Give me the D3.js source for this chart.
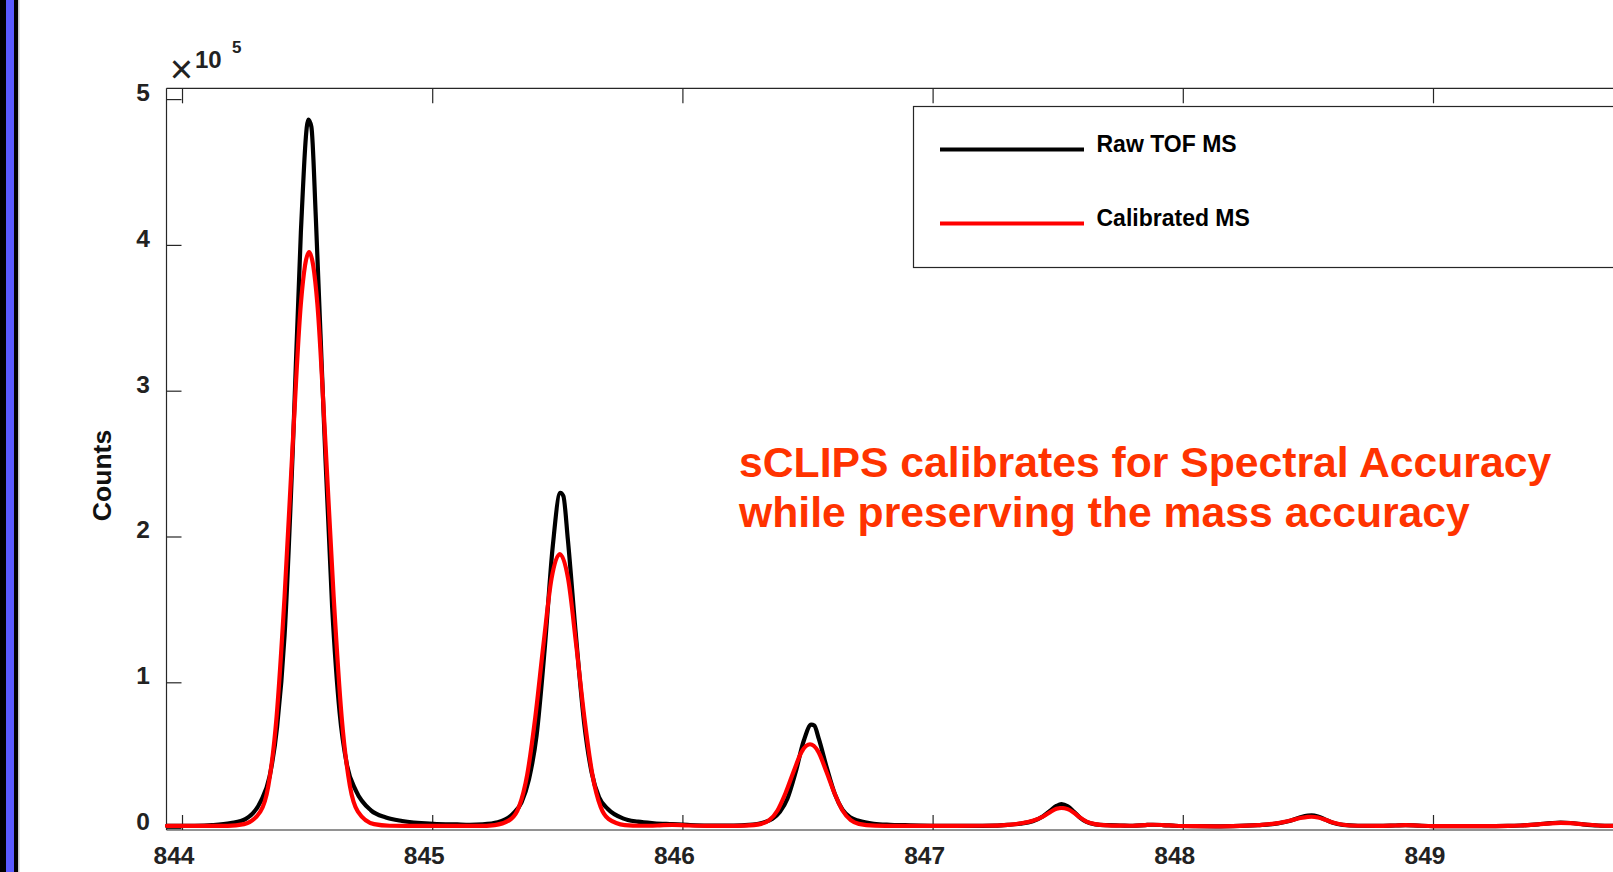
<!DOCTYPE html>
<html>
<head>
<meta charset="utf-8">
<script src="https://cdn.jsdelivr.net/npm/d3@7"></script>
<style>
  html, body { margin: 0; padding: 0; background: #fff; overflow: hidden; }
  svg { display: block; }
  text { font-family: "Liberation Sans", Arial, Helvetica, sans-serif; }
</style>
</head>
<body>
<svg id="chart" width="1613" height="872"></svg>
<script>
// ---------------- data ----------------
const seriesNames = ["Raw TOF MS", "Calibrated MS"];
const seriesColors = ["#000000", "#ff0000"];

const mzRaw = [843.94,844.05,844.12,844.195,844.255,844.315,844.35,844.38,844.41,844.4425,844.475,844.505,844.517,844.535,844.5675,844.60,844.63,844.66,844.695,844.755,844.815,844.88,845.005,845.1,845.15,
  845.202,845.262,845.322,845.357,845.387,845.417,845.4495,845.482,845.512,845.524,845.542,845.5745,845.607,845.637,845.667,845.702,845.762,845.822,845.887,845.96,846.02,846.1,
  846.205,846.265,846.325,846.36,846.39,846.42,846.4525,846.485,846.515,846.527,846.545,846.5775,846.61,846.64,846.67,846.705,846.765,846.83,846.89,846.95,847.05,847.15,
  847.25,847.30,847.35,847.40,847.44,847.47,847.495,847.515,847.54,847.565,847.59,847.615,847.65,847.70,847.75,847.80,847.85,847.88,847.92,847.97,848.05,848.15,
  848.20,848.30,848.38,848.43,848.47,848.50,848.515,848.54,848.57,848.60,848.64,848.70,848.78,848.85,848.89,848.94,849.0,849.1,849.2,849.3,
  849.35,849.42,849.47,849.51,849.55,849.60,849.66,849.72,849.80,849.9,850.0];
const countsRaw = [1500,1600,2000,3400,6300,18500,35400,69300,132300,258300,408500,486000,481000,418000,277700,151700,79000,42700,25700,12200,7300,4900,3000,2500,2300,
  2600,4000,9700,17700,33700,63400,122800,193600,230000,227900,198200,131900,72500,38300,21100,13100,6700,4400,3300,2700,2200,1800,
  1800,2200,3900,6400,11200,20300,38300,59900,71000,70300,61300,41100,23000,12600,7400,5000,3000,2300,2000,1700,1500,1500,
  1700,2200,3000,4700,8000,12000,15200,16500,15000,11200,7000,4200,2600,2000,1800,1600,2100,2300,2100,1600,1300,1200,
  1300,2000,3200,5000,7400,8600,8800,8000,5800,3600,2200,1600,1500,1800,2000,1700,1400,1300,1300,1500,
  1800,2600,3400,3800,3500,2600,1800,1500,1400,1300,1300];

const mzCal = [843.94,844.10,844.183,844.248,844.313,844.345,844.378,844.41,844.443,844.475,844.508,844.541,844.573,844.606,844.638,844.671,844.703,844.768,844.83,844.9,845.1,
  845.185,845.25,845.315,845.347,845.38,845.412,845.445,845.477,845.51,845.543,845.575,845.608,845.64,845.673,845.705,845.77,845.835,845.9,845.96,846.02,846.1,
  846.185,846.25,846.315,846.347,846.38,846.412,846.445,846.477,846.51,846.543,846.575,846.608,846.64,846.673,846.705,846.77,846.85,847.0,847.2,
  847.25,847.30,847.35,847.40,847.44,847.47,847.495,847.515,847.54,847.565,847.59,847.615,847.65,847.70,847.75,847.80,847.85,847.88,847.92,847.97,848.05,848.15,
  848.20,848.30,848.38,848.43,848.47,848.50,848.515,848.54,848.57,848.60,848.64,848.70,848.78,848.85,848.89,848.94,849.0,849.1,849.2,849.3,
  849.35,849.42,849.47,849.51,849.55,849.60,849.66,849.72,849.80,849.9,850.0];
const countsCal = [1500,1500,1500,2700,11300,29000,76300,158900,265100,359600,395000,359600,265100,158900,76300,29000,11300,2700,1600,1500,1500,
  1500,2100,6200,14600,36900,76100,126500,171200,188000,171200,126500,76100,36900,14600,6200,2100,1600,1800,2200,1800,1500,
  1500,1700,2900,5400,12100,23900,39000,52500,57500,52500,39000,23900,12100,5400,2900,1700,1500,1500,1600,
  1700,2200,3200,5000,7800,11000,13200,13800,13000,10500,7200,4500,2700,1900,1700,1600,2100,2300,2100,1600,1300,1200,
  1300,2000,3400,5200,6900,7700,7800,7300,5700,3800,2300,1600,1500,1800,2000,1700,1400,1300,1300,1500,
  1800,2500,3300,3600,3400,2600,1800,1500,1400,1300,1300];

const xTicks = [844, 845, 846, 847, 848, 849];
const yTicks = [0, 100000, 200000, 300000, 400000, 500000];
const yTickLabels = ["0", "1", "2", "3", "4", "5"];
const yLabel = "Counts";
const exponentBase = "10";
const exponentPower = "5";
const annotationLines = ["sCLIPS calibrates for Spectral Accuracy", "while preserving the mass accuracy"];

// ---------------- layout ----------------
const svg = d3.select("#chart");
const plot = { left: 166.5, right: 1750, top: 88.3, bottom: 830 };
const x = d3.scaleLinear().domain([843.938, 850.267]).range([plot.left, plot.right]);
const y = d3.scaleLinear().domain([-1300, 507400]).range([plot.bottom, plot.top]);
const axisColor = "#262626";
const tickLen = 15;

// left decorative stripe
svg.append("rect").attr("x", 0).attr("y", 0).attr("width", 18).attr("height", 872).attr("fill", "#000");
svg.append("rect").attr("x", 6).attr("y", 0).attr("width", 8).attr("height", 872).attr("fill", "#5a5aff");
svg.append("rect").attr("x", 18).attr("y", 0).attr("width", 1.5).attr("height", 872).attr("fill", "#c8c8c8");

// axes via d3 axis generators (ticks inward, labels drawn separately)
const gBottom = svg.append("g").attr("transform", `translate(0,${plot.bottom})`)
  .call(d3.axisTop(x).tickValues(xTicks).tickSize(tickLen).tickFormat(""));
const gTop = svg.append("g").attr("transform", `translate(0,${plot.top})`)
  .call(d3.axisBottom(x).tickValues(xTicks).tickSize(tickLen).tickFormat(""));
const gLeft = svg.append("g").attr("transform", `translate(${plot.left},0)`)
  .call(d3.axisRight(y).tickValues(yTicks).tickSize(tickLen).tickFormat(""));
[gBottom, gTop, gLeft].forEach(g => {
  g.selectAll(".domain").remove();
  g.selectAll("line").attr("stroke", axisColor).attr("stroke-width", 1.2);
});
// axis lines
svg.append("line").attr("x1", plot.left).attr("x2", plot.right).attr("y1", plot.bottom).attr("y2", plot.bottom).attr("stroke", axisColor).attr("stroke-width", 1.2);
svg.append("line").attr("x1", plot.left).attr("x2", plot.right).attr("y1", plot.top).attr("y2", plot.top).attr("stroke", axisColor).attr("stroke-width", 1.2);
svg.append("line").attr("x1", plot.left).attr("x2", plot.left).attr("y1", plot.top).attr("y2", plot.bottom).attr("stroke", axisColor).attr("stroke-width", 1.2);

// tick labels
svg.append("g").selectAll("text").data(xTicks).join("text")
  .attr("x", d => x(d) - 8).attr("y", 863.5)
  .attr("text-anchor", "middle").attr("font-size", 24.5).attr("font-weight", "bold").attr("fill", "#222")
  .text(d => d);
svg.append("g").selectAll("text").data(yTicks).join("text")
  .attr("x", 150).attr("y", d => y(d) + 2)
  .attr("text-anchor", "end").attr("font-size", 24.5).attr("font-weight", "bold").attr("fill", "#222")
  .text((d, i) => yTickLabels[i]);

// y label
svg.append("text").attr("transform", "translate(110.5,475.5) rotate(-90)")
  .attr("text-anchor", "middle").attr("font-size", 26.5).attr("font-weight", "bold").attr("fill", "#111")
  .text(yLabel);

// exponent
svg.append("text").attr("x", 181.5).attr("y", 83).attr("text-anchor", "middle")
  .attr("font-size", 40).attr("fill", "#222").text("\u00d7");
svg.append("text").attr("x", 195).attr("y", 68).attr("font-size", 24).attr("font-weight", "bold").attr("fill", "#222").text(exponentBase);
svg.append("text").attr("x", 232).attr("y", 53).attr("font-size", 17).attr("font-weight", "bold").attr("fill", "#222").text(exponentPower);

// data lines
const line = d3.line().x(d => x(d[0])).y(d => y(d[1])).curve(d3.curveMonotoneX);
const rawData = d3.zip(mzRaw, countsRaw);
const calData = d3.zip(mzCal, countsCal);
const gLines = svg.append("g");
[rawData, calData].forEach((data, i) => {
  gLines.append("path").datum(data).attr("d", line)
    .attr("fill", "none").attr("stroke", seriesColors[i]).attr("stroke-width", 4.2)
    .attr("stroke-linejoin", "round").attr("stroke-linecap", "round");
});

// legend
const legend = svg.append("g");
legend.append("rect").attr("x", 913.5).attr("y", 106.5).attr("width", 800).attr("height", 161)
  .attr("fill", "#fff").attr("stroke", axisColor).attr("stroke-width", 1.2);
const legendY = [149.5, 223.5];
seriesNames.forEach((name, i) => {
  legend.append("line").attr("x1", 940).attr("x2", 1084).attr("y1", legendY[i]).attr("y2", legendY[i])
    .attr("stroke", seriesColors[i]).attr("stroke-width", 3.8);
  legend.append("text").attr("x", 1096.5).attr("y", legendY[i] + 2)
    .attr("font-size", 23).attr("font-weight", "bold").attr("fill", "#000").text(name);
});

// annotation
svg.append("g").selectAll("text").data(annotationLines).join("text")
  .attr("x", 739).attr("y", (d, i) => 477 + i * 49.5)
  .attr("font-size", 42.7).attr("font-weight", "bold").attr("fill", "#ff3300")
  .text(d => d);
</script>
</body>
</html>
